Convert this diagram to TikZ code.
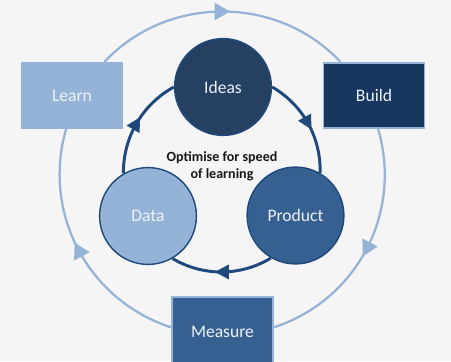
\documentclass[tikz,border=0pt]{standalone}
\usepackage{fontspec}
\setmainfont{Carlito}
\usetikzlibrary{arrows.meta,decorations.markings}
\definecolor{stepdark}{HTML}{17375E}
\definecolor{stepmid}{HTML}{366092}
\definecolor{steplight}{HTML}{95B3D7}
\definecolor{ideadark}{HTML}{254061}
\definecolor{loopblue}{HTML}{1F497D}
\definecolor{backgray}{HTML}{F5F5F5}
\definecolor{labelwhite}{HTML}{EEF2F8}
\begin{document}
\begin{tikzpicture}[x=0.025cm,y=0.025cm,
    stage/.style={draw=steplight,line width=1.2pt,minimum width=2.53cm,
      minimum height=1.63cm,text=labelwhite,font=\fontsize{12.5}{15}\selectfont},
    phase/.style={circle,draw=loopblue,line width=1pt,minimum size=2.42cm,
      text=labelwhite,font=\fontsize{12.5}{15}\selectfont},
    innerloop/.style={loopblue,line width=2.1pt,bend left=31,looseness=0.92,
      postaction={decorate},decoration={markings,
      mark=at position 0.5 with {\arrow[xshift=5pt]{Triangle[length=10pt,width=10pt]}}}},
    outerloop/.style={steplight,line width=1.6pt,
      postaction={decorate},decoration={markings,
      mark=at position 0.5 with {\arrow[xshift=5.5pt]{Triangle[length=11pt,width=12pt]}}}}]
      \useasboundingbox (0,0) rectangle (451,361);
      \clip (0,0) rectangle (451,361);
      \fill[backgray] (0,0) rectangle (451,361);

      % outer loop: build, measure, learn
      \node[stage,fill=steplight] (learn) at (72,265.5) {Learn};
      \node[stage,fill=stepdark] (build) at (374,265.5) {Build};
      \node[stage,fill=stepmid,minimum height=1.75cm,anchor=north] (measure) at (222.5,65) {Measure};

      % inner loop: ideas, product, data
      \node[phase,fill=ideadark] (ideas) at (223,274) {Ideas};
      \node[phase,fill=stepmid] (product) at (295.5,145.5) {Product};
      \node[phase,fill=steplight] (data) at (148,145) {Data};

      \node[font=\bfseries\fontsize{10}{12}\selectfont,align=center,text=black!90]
        (goal) at (222,195) {Optimise for speed\\of learning};

      \foreach \a/\b/\bend in {learn.46/build.135/47,
                               build.277/measure.5/44,
                               measure.175/learn.260/44}
      {\draw[outerloop] (\a) to[bend left=\bend] (\b);
      };

      \foreach \a/\b in {ideas.0/product.60, product.-120/data.-60, data.120/ideas.180}
      {\draw[innerloop] (\a) to (\b);
      };
\end{tikzpicture}
\end{document}
